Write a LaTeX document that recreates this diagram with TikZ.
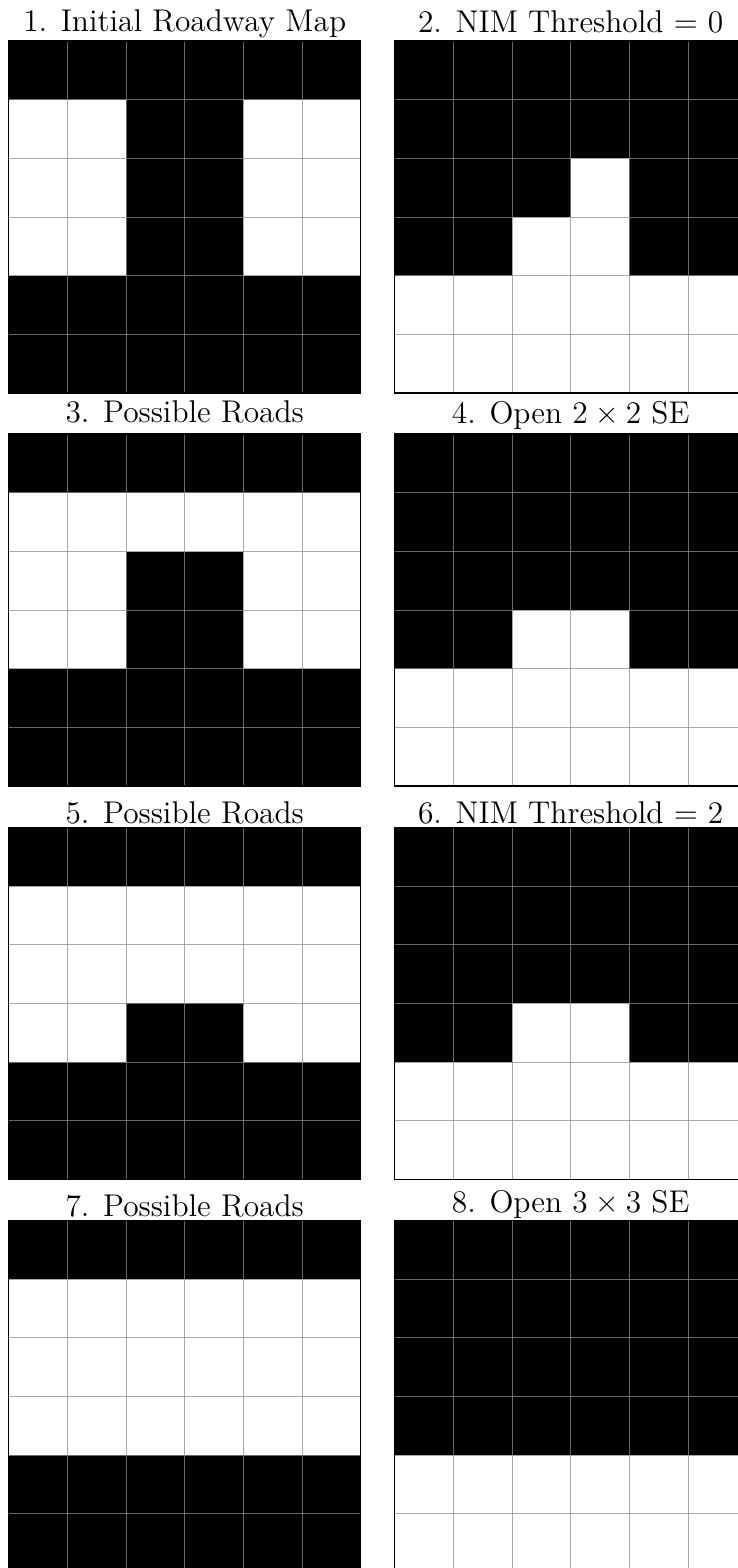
\documentclass[tikz,border=0pt]{standalone}
\def\cellsz{58.67}
\tikzset{
  gridline/.style={draw={rgb,1:red,0.55;green,0.55;blue,0.55}, draw opacity=0.75, line width=1pt},
  frameline/.style={draw=black, line width=1.5pt},
  paneltitle/.style={anchor=base, inner sep=0pt, font=\fontsize{12}{14}\selectfont, scale=2.62}
}
\newcommand\mtimes{\hspace{0.222em}×\hspace{0.222em}}
\newcommand\drawpanel[3]{%
  \begin{scope}[shift={(#1,#2)}]
    \foreach \row [count=\r from 0] in {#3} {
      \foreach \c [count=\k from 0] in \row {
        \ifnum\c=1 \fill[black] (\k*\cellsz,\r*\cellsz) rectangle ++(\cellsz,\cellsz);\fi
      }
    }
    \foreach \i in {1,...,5} {
      \draw[gridline] (\i*\cellsz,0) -- (\i*\cellsz,6*\cellsz);
      \draw[gridline] (0,\i*\cellsz) -- (6*\cellsz,\i*\cellsz);
    }
    \draw[frameline] (0,0) rectangle (6*\cellsz,6*\cellsz);
  \end{scope}}
\begin{document}
\begin{tikzpicture}[x=1pt,y=-1pt]
\useasboundingbox (0,0) rectangle (738,1568);
\clip (0,0) rectangle (738,1568);
% row 1
\node[paneltitle] (t1) at (184.7,32) {1. Initial Roadway Map};
\node[paneltitle] (t2) at (570.7,33) {2. NIM Threshold = 0};
\drawpanel{8.7}{41}{{1,1,1,1,1,1},{0,0,1,1,0,0},{0,0,1,1,0,0},{0,0,1,1,0,0},{1,1,1,1,1,1},{1,1,1,1,1,1}}
\drawpanel{394.7}{41}{{1,1,1,1,1,1},{1,1,1,1,1,1},{1,1,1,0,1,1},{1,1,0,0,1,1},{0,0,0,0,0,0},{0,0,0,0,0,0}}
% row 2
\node[paneltitle] (t3) at (184.7,422.5) {3. Possible Roads};
\node[paneltitle] (t4) at (570.7,423) {4. Open 2\mtimes2 SE};
\drawpanel{8.7}{434.2}{{1,1,1,1,1,1},{0,0,0,0,0,0},{0,0,1,1,0,0},{0,0,1,1,0,0},{1,1,1,1,1,1},{1,1,1,1,1,1}}
\drawpanel{394.7}{434.2}{{1,1,1,1,1,1},{1,1,1,1,1,1},{1,1,1,1,1,1},{1,1,0,0,1,1},{0,0,0,0,0,0},{0,0,0,0,0,0}}
% row 3
\node[paneltitle] (t5) at (184.7,823.5) {5. Possible Roads};
\node[paneltitle] (t6) at (570.7,823.5) {6. NIM Threshold = 2};
\drawpanel{8.7}{827.4}{{1,1,1,1,1,1},{0,0,0,0,0,0},{0,0,0,0,0,0},{0,0,1,1,0,0},{1,1,1,1,1,1},{1,1,1,1,1,1}}
\drawpanel{394.7}{827.4}{{1,1,1,1,1,1},{1,1,1,1,1,1},{1,1,1,1,1,1},{1,1,0,0,1,1},{0,0,0,0,0,0},{0,0,0,0,0,0}}
% row 4
\node[paneltitle] (t7) at (184.7,1216) {7. Possible Roads};
\node[paneltitle] (t8) at (570.7,1212) {8. Open 3\mtimes3 SE};
\drawpanel{8.7}{1220.6}{{1,1,1,1,1,1},{0,0,0,0,0,0},{0,0,0,0,0,0},{0,0,0,0,0,0},{1,1,1,1,1,1},{1,1,1,1,1,1}}
\drawpanel{394.7}{1220.6}{{1,1,1,1,1,1},{1,1,1,1,1,1},{1,1,1,1,1,1},{1,1,1,1,1,1},{0,0,0,0,0,0},{0,0,0,0,0,0}}
\end{tikzpicture}
\end{document}
